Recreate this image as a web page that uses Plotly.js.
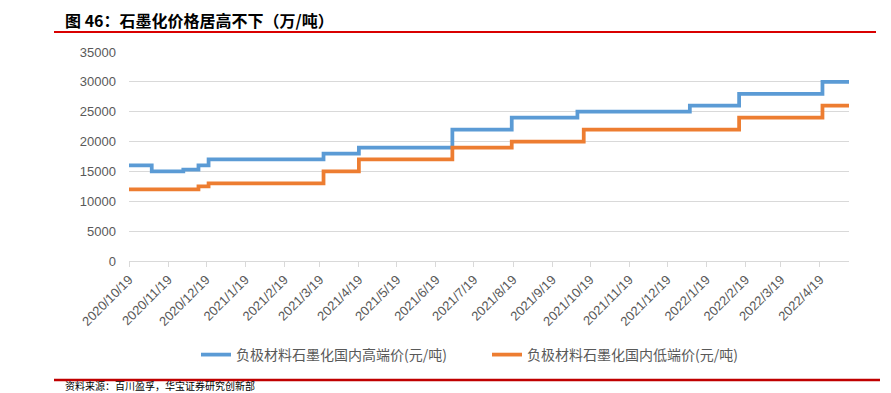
<!DOCTYPE html>
<html>
<head>
<meta charset="utf-8">
<script src="https://cdn.plot.ly/plotly-3.0.1.min.js"></script>
<style>html,body{margin:0;padding:0;background:#fff;}#chart{width:891px;height:393px;}</style>
</head>
<body>
<div id="chart"></div>
<script>
// ---- data ----
const highName = '负极材料石墨化国内高端价(元/吨)';
const lowName = '负极材料石墨化国内低端价(元/吨)';
const highDates = ['2020-10-19','2020-11-06','2020-12-01','2020-12-13','2020-12-21','2021-03-22','2021-04-19','2021-07-02','2021-08-18','2021-10-09','2022-01-06','2022-02-14','2022-04-21','2022-05-12'];
const highValues = [16000,15000,15300,16000,17000,18000,19000,22000,24000,25000,26000,28000,30000,30000];
const lowDates = ['2020-10-19','2020-12-13','2020-12-21','2021-03-22','2021-04-19','2021-07-02','2021-08-18','2021-10-14','2022-02-14','2022-04-21','2022-05-12'];
const lowValues = [12000,12500,13000,15000,17000,19000,20000,22000,24000,26000,26000];
const tickDates = ['2020-10-19','2020-11-19','2020-12-19','2021-01-19','2021-02-19','2021-03-19','2021-04-19','2021-05-19','2021-06-19','2021-07-19','2021-08-19','2021-09-19','2021-10-19','2021-11-19','2021-12-19','2022-01-19','2022-02-19','2022-03-19','2022-04-19'];
const tickLabels = ['2020/10/19','2020/11/19','2020/12/19','2021/1/19','2021/2/19','2021/3/19','2021/4/19','2021/5/19','2021/6/19','2021/7/19','2021/8/19','2021/9/19','2021/10/19','2021/11/19','2021/12/19','2022/1/19','2022/2/19','2022/3/19','2022/4/19'];
const titleText = '图 46：石墨化价格居高不下（万/吨）';
const sourceText = '资料来源：百川盈孚，华宝证券研究创新部';

// ---- layout helpers ----
const L = 129, R = 42, T = 52, B = 132, W = 891, H = 393;
const pw = W - L - R, ph = H - T - B;
const px = x => (x - L) / pw;
const py = y => (H - B - y) / ph;
const cjk = '"Noto Sans CJK SC", "Noto Sans", sans-serif';

const traces = [
  {x: highDates, y: highValues, name: highName, type: 'scatter', mode: 'lines',
   line: {shape: 'hv', color: '#5B9BD5', width: 3.75}},
  {x: lowDates, y: lowValues, name: lowName, type: 'scatter', mode: 'lines',
   line: {shape: 'hv', color: '#ED7D31', width: 3.75}}
];

const layout = {
  width: W, height: H,
  margin: {l: L, r: R, t: T, b: B, pad: 0},
  paper_bgcolor: '#fff', plot_bgcolor: '#fff',
  showlegend: true,
  legend: {orientation: 'h', x: px(196), xanchor: 'left', y: py(355), yanchor: 'middle',
           font: {family: cjk, size: 14, color: '#595959'}, entrywidth: 246, entrywidthmode: 'pixels',
           itemwidth: 30, bgcolor: 'rgba(0,0,0,0)'},
  xaxis: {type: 'date', range: ['2020-10-19', '2022-05-12'], tickmode: 'array',
          tickvals: tickDates, ticktext: tickLabels, tickangle: -45,
          ticks: 'outside', ticklen: 5, tickcolor: '#d9d9d9', tickwidth: 1,
          showline: true, linecolor: '#d9d9d9', linewidth: 1, showgrid: false, zeroline: false,
          tickfont: {family: '"Liberation Sans", Arial, sans-serif', size: 13, color: '#595959'}},
  yaxis: {range: [0, 35000], dtick: 5000, tick0: 0, tickformat: 'd', showgrid: true, gridcolor: '#d9d9d9', gridwidth: 1,
          zeroline: false, showline: false, ticks: '', ticklabelstandoff: 12,
          tickfont: {family: '"Liberation Sans", Arial, sans-serif', size: 13, color: '#595959'}},
  shapes: [
    {type: 'line', xref: 'paper', yref: 'paper', x0: px(54), x1: px(876), y0: py(32), y1: py(32),
     line: {color: '#D90000', width: 2}},
    {type: 'line', xref: 'paper', yref: 'paper', x0: px(54), x1: px(880), y0: py(380), y1: py(380),
     line: {color: '#C00000', width: 2.5}}
  ],
  annotations: [
    {text: '<b>' + titleText + '</b>', xref: 'paper', yref: 'paper', x: px(63), y: py(20),
     xanchor: 'left', yanchor: 'middle', showarrow: false,
     font: {family: cjk, size: 16, color: '#000'}},
    {text: sourceText, xref: 'paper', yref: 'paper', x: px(63), y: py(395),
     xanchor: 'left', yanchor: 'bottom', showarrow: false,
     font: {family: cjk, size: 10, color: '#000'}}
  ]
};

Plotly.newPlot('chart', traces, layout, {staticPlot: true, displayModeBar: false});
</script>
</body>
</html>
